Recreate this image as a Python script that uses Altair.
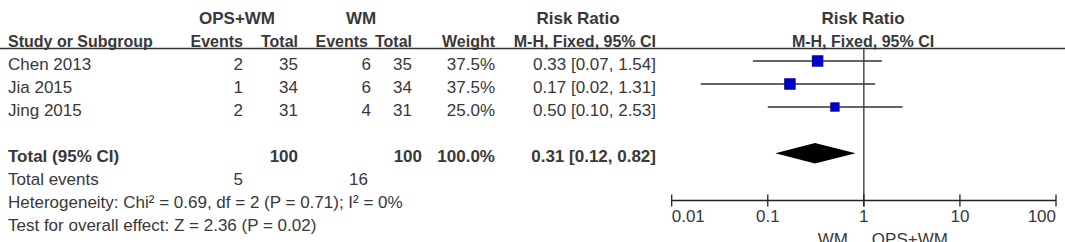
import altair as alt
import pandas as pd

# ---------------- data ----------------
studies = ["Chen 2013", "Jia 2015", "Jing 2015"]
ops_events = [2, 1, 2]
ops_total = [35, 34, 31]
wm_events = [6, 6, 4]
wm_total = [35, 34, 31]
weights = [37.5, 37.5, 25.0]
rr = [0.33, 0.17, 0.50]
rr_lo = [0.07, 0.02, 0.10]
rr_hi = [1.54, 1.31, 2.53]

pooled = [0.31, 0.12, 0.82]          # estimate, lower, upper
pooled_totals = [100, 100]           # OPS+WM, WM
pooled_weight = 100.0
total_events = [5, 16]               # OPS+WM, WM
heterogeneity = "Heterogeneity: Chi\u00b2 = 0.69, df = 2 (P = 0.71); I\u00b2 = 0%"
overall = "Test for overall effect: Z = 2.36 (P = 0.02)"

group_headers = ["OPS+WM", "WM", "Risk Ratio", "Risk Ratio"]
col_headers = ["Study or Subgroup", "Events", "Total", "Events", "Total",
               "Weight", "M-H, Fixed, 95% CI", "M-H, Fixed, 95% CI"]
axis_ticks = [0.01, 0.1, 1, 10, 100]
axis_labels = ["0.01", "0.1", "1", "10", "100"]
favours = ["WM", "OPS+WM"]
total_label = "Total (95% CI)"
events_label = "Total events"

# ---------------- layout / style ----------------
W, H = 1065, 242
Y0, ROW_H = 18.5, 23.0
SHIFT = -3.5 / ROW_H                  # graphics sit slightly above text rows
FONT = "Liberation Sans, Arial, sans-serif"
FS = 17
FS_HDR = 16
TXT = "#383838"
LINE = "#222222"
BLUE = "#0000c0"

STUDY_X, OPS_EV_X, OPS_TOT_X = 8, 243, 298
WM_EV_X, WM_TOT_X, WEIGHT_X, RR_X = 371, 412, 495, 656
WM_EV_HDR_X = 368
OPS_HDR_X, WM_HDR_X, RR_HDR_X, FOREST_HDR_X = 237, 361, 578, 863
WM_TOT_BOLD_X, WM_EVT_TOTAL_X = 422, 368
LOG_RANGE = [671.7, 1056.0]


def row_of(px):
    return (px - Y0) / ROW_H


xpx = alt.Scale(domain=[0, W], range=[0, W], nice=False)
xlog = alt.Scale(type="log", domain=[0.01, 100], range=LOG_RANGE, nice=False)
yscale = alt.Scale(domain=[0, 1], range=[Y0, Y0 + ROW_H], nice=False, zero=False)

# ---------------- text table ----------------
cells = []


def add(text, x, row, align, bold, size=FS):
    cells.append(dict(text=str(text), x=x, row=row, align=align, bold=bold, size=size))


# headers
add(group_headers[0], OPS_HDR_X, 0, "center", True)
add(group_headers[1], WM_HDR_X, 0, "center", True)
add(group_headers[2], RR_HDR_X, 0, "center", True)
add(group_headers[3], FOREST_HDR_X, 0, "center", True)
add(col_headers[0], STUDY_X, 1, "left", True, FS_HDR)
for t, x in zip(col_headers[1:6], [OPS_EV_X, OPS_TOT_X, WM_EV_HDR_X, WM_TOT_X, WEIGHT_X]):
    add(t, x, 1, "right", True, FS_HDR)
add(col_headers[6], RR_X, 1, "right", True, FS_HDR)
add(col_headers[7], FOREST_HDR_X, 1, "center", True, FS_HDR)

# studies
for i, s in enumerate(studies):
    r = 2 + i
    add(s, STUDY_X, r, "left", False)
    add(ops_events[i], OPS_EV_X, r, "right", False)
    add(ops_total[i], OPS_TOT_X, r, "right", False)
    add(wm_events[i], WM_EV_X, r, "right", False)
    add(wm_total[i], WM_TOT_X, r, "right", False)
    add(f"{weights[i]:.1f}%", WEIGHT_X, r, "right", False)
    add(f"{rr[i]:.2f} [{rr_lo[i]:.2f}, {rr_hi[i]:.2f}]", RR_X, r, "right", False)

# totals
add(total_label, STUDY_X, 6, "left", True)
add(pooled_totals[0], OPS_TOT_X, 6, "right", True)
add(pooled_totals[1], WM_TOT_BOLD_X, 6, "right", True)
add(f"{pooled_weight:.1f}%", WEIGHT_X, 6, "right", True)
add(f"{pooled[0]:.2f} [{pooled[1]:.2f}, {pooled[2]:.2f}]", RR_X, 6, "right", True)
add(events_label, STUDY_X, 7, "left", False)
add(total_events[0], OPS_EV_X, 7, "right", False)
add(total_events[1], WM_EVT_TOTAL_X, 7, "right", False)
add(heterogeneity, STUDY_X, 8, "left", False)
add(overall, STUDY_X, 9, "left", False)

cells_df = pd.DataFrame(cells)

layers = []
for align in ["left", "right", "center"]:
    for bold in [False, True]:
        for size in [FS, FS_HDR]:
            sub = cells_df[(cells_df["align"] == align) & (cells_df["bold"] == bold)
                           & (cells_df["size"] == size)]
            if len(sub) == 0:
                continue
            layers.append(
                alt.Chart(sub).mark_text(
                    align=align, baseline="middle", font=FONT, fontSize=size,
                    fontWeight="bold" if bold else "normal", color=TXT,
                ).encode(
                    x=alt.X("x:Q", scale=xpx, axis=None),
                    y=alt.Y("row:Q", scale=yscale, axis=None),
                    text="text:N",
                )
            )

# header separator line
sep = alt.Chart(pd.DataFrame({"r": [row_of(48.5)]})).mark_rule(
    color="#333333", strokeWidth=1.5
).encode(
    x=alt.value(0), x2=alt.value(W),
    y=alt.Y("r:Q", scale=yscale, axis=None),
)
layers.append(sep)

# ---------------- forest plot ----------------
forest_df = pd.DataFrame({
    "rr": rr, "lo": rr_lo, "hi": rr_hi, "w": weights,
    "yg": [2 + i + SHIFT for i in range(len(studies))],
})

# line of no effect
noeff = alt.Chart(pd.DataFrame({"v": [1], "y1": [row_of(48.5)], "y2": [row_of(206.5)]})).mark_rule(
    color=LINE, strokeWidth=1.2
).encode(
    x=alt.X("v:Q", scale=xlog, axis=None),
    y=alt.Y("y1:Q", scale=yscale, axis=None), y2="y2:Q",
)

ci = alt.Chart(forest_df).mark_rule(color="#333333", strokeWidth=1.3).encode(
    x=alt.X("lo:Q", scale=xlog, axis=None), x2="hi:Q",
    y=alt.Y("yg:Q", scale=yscale, axis=None),
)

squares = alt.Chart(forest_df).mark_square(filled=True, color=BLUE, opacity=1).encode(
    x=alt.X("rr:Q", scale=xlog, axis=None),
    y=alt.Y("yg:Q", scale=yscale, axis=None),
    size=alt.Size("w:Q", scale=alt.Scale(domain=[0, 37.5], range=[0, 132]), legend=None),
)

dc = row_of(153.3)
dh = 10.3 / ROW_H
diamond_df = pd.DataFrame({
    "x": [pooled[1], pooled[0], pooled[2]],
    "ytop": [dc, dc - dh, dc],
    "ybot": [dc, dc + dh, dc],
})
diamond = alt.Chart(diamond_df).mark_area(color="#000000", orient="vertical").encode(
    x=alt.X("x:Q", scale=xlog, axis=None),
    y=alt.Y("ytop:Q", scale=yscale, axis=None), y2="ybot:Q",
)

# axis
axis_row = row_of(200.5)
axis_line = alt.Chart(pd.DataFrame({"a": [axis_ticks[0]], "b": [axis_ticks[-1]], "r": [axis_row]})).mark_rule(
    color=LINE, strokeWidth=1.3
).encode(
    x=alt.X("a:Q", scale=xlog, axis=None), x2="b:Q",
    y=alt.Y("r:Q", scale=yscale, axis=None),
)
ticks_df = pd.DataFrame({
    "t": axis_ticks, "lab": axis_labels,
    "y1": [row_of(194.5)] * len(axis_ticks), "y2": [row_of(206.5)] * len(axis_ticks),
    "ly": [row_of(217.0)] * len(axis_ticks),
    "idx": list(range(len(axis_ticks))),
})
ticks = alt.Chart(ticks_df).mark_rule(color=LINE, strokeWidth=1.3).encode(
    x=alt.X("t:Q", scale=xlog, axis=None),
    y=alt.Y("y1:Q", scale=yscale, axis=None), y2="y2:Q",
)
n = len(axis_ticks)
label_layers = []
for align, cond in [("left", "datum.idx == 0"), ("center", f"datum.idx > 0 && datum.idx < {n-1}"),
                    ("right", f"datum.idx == {n-1}")]:
    label_layers.append(
        alt.Chart(ticks_df).transform_filter(cond).mark_text(
            align=align, baseline="middle", font=FONT, fontSize=FS, color=TXT
        ).encode(
            x=alt.X("t:Q", scale=xlog, axis=None),
            y=alt.Y("ly:Q", scale=yscale, axis=None),
            text="lab:N",
        )
    )

fav_df = pd.DataFrame({"v": [1, 1], "lab": favours, "r": [row_of(245.2)] * 2})
fav_left = alt.Chart(fav_df.iloc[[0]]).mark_text(
    align="right", baseline="alphabetic", dx=-16, font=FONT, fontSize=FS, color=TXT
).encode(x=alt.X("v:Q", scale=xlog, axis=None), y=alt.Y("r:Q", scale=yscale, axis=None), text="lab:N")
fav_right = alt.Chart(fav_df.iloc[[1]]).mark_text(
    align="left", baseline="alphabetic", dx=8, font=FONT, fontSize=FS, color=TXT
).encode(x=alt.X("v:Q", scale=xlog, axis=None), y=alt.Y("r:Q", scale=yscale, axis=None), text="lab:N")

layers += [noeff, ci, squares, diamond, axis_line, ticks] + label_layers + [fav_left, fav_right]

chart = alt.layer(*layers).resolve_scale(x="independent").properties(
    width=W, height=H, padding=0, autosize=alt.AutoSizeParams(type="none"),
    background="white",
).configure_view(stroke=None)

chart.save("out.html", embed_options={"renderer": "svg", "actions": False})
